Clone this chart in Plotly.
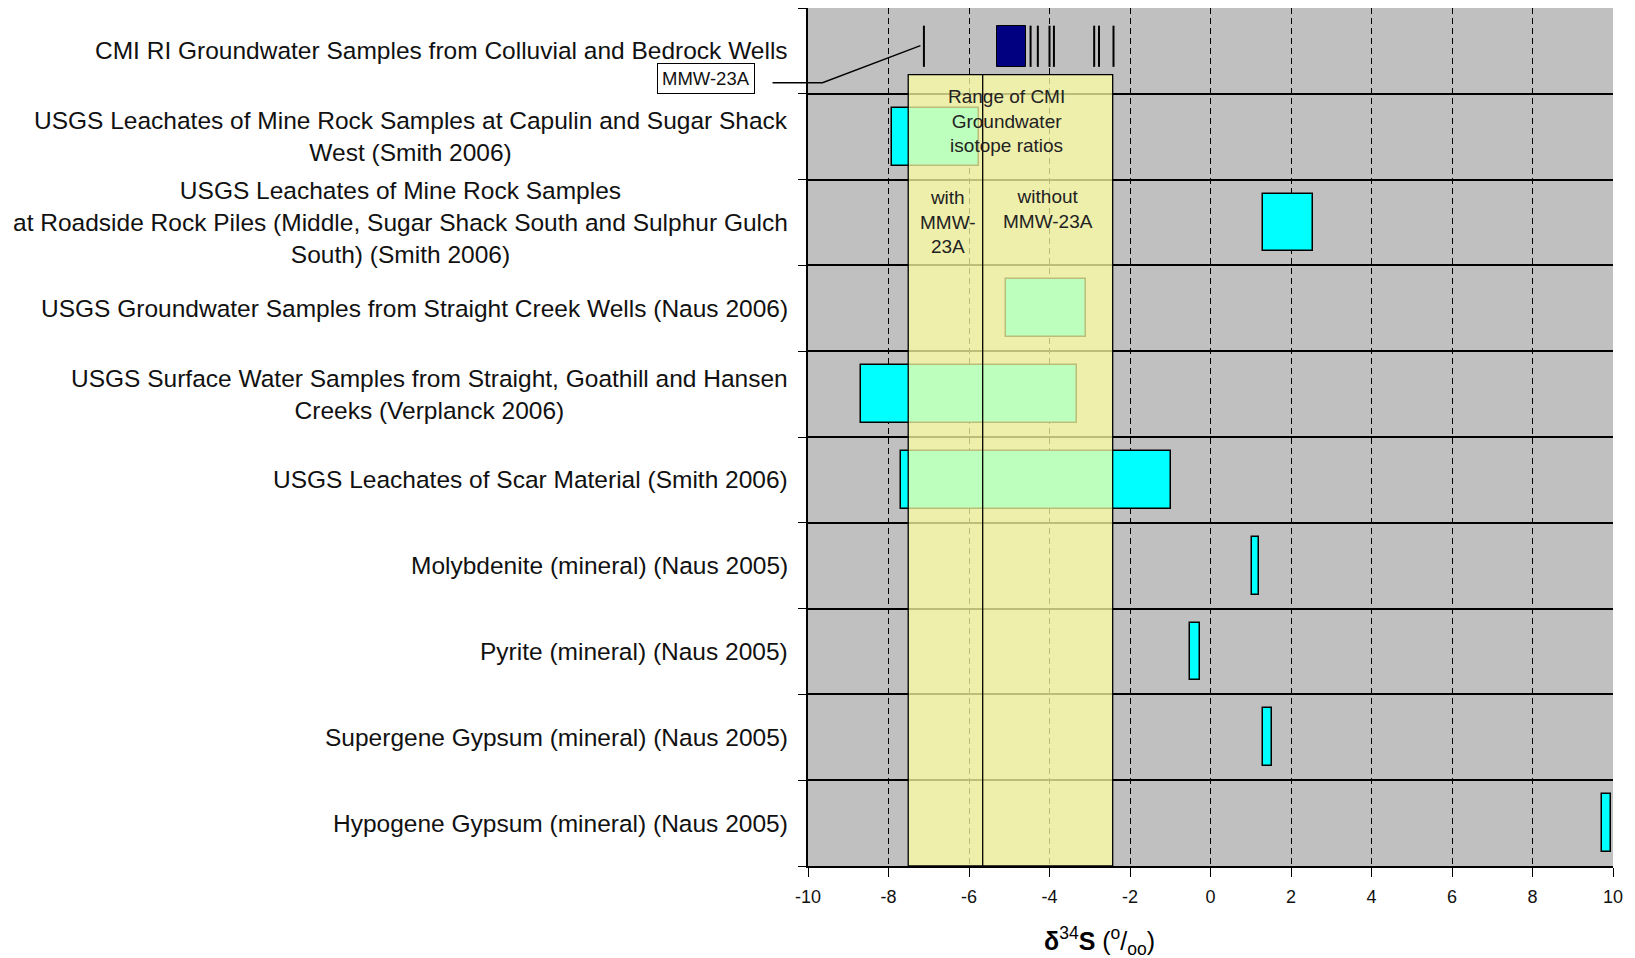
import plotly.graph_objects as go

# ---------------- data ----------------
row_labels = [
    "CMI RI Groundwater Samples from Colluvial and Bedrock Wells",
    "USGS Leachates of Mine Rock Samples at Capulin and Sugar Shack<br>West (Smith 2006)",
    "USGS Leachates of Mine Rock Samples<br>at Roadside Rock Piles (Middle, Sugar Shack South and Sulphur Gulch<br>South) (Smith 2006)",
    "USGS Groundwater Samples from Straight Creek Wells (Naus 2006)",
    "USGS Surface Water Samples from Straight, Goathill and Hansen<br>Creeks (Verplanck 2006)",
    "USGS Leachates of Scar Material (Smith 2006)",
    "Molybdenite (mineral) (Naus 2005)",
    "Pyrite (mineral) (Naus 2005)",
    "Supergene Gypsum (mineral) (Naus 2005)",
    "Hypogene Gypsum (mineral) (Naus 2005)",
]
range_rows = [1, 2, 3, 4, 5, 6, 7, 8, 9]
range_min = [-7.92, 1.30, -5.09, -8.69, -7.69, 1.02, -0.51, 1.31, 9.73]
range_max = [-5.76, 2.55, -3.09, -3.31, -0.99, 1.21, -0.26, 1.52, 9.95]

cmi_cluster = [-5.30, -4.58]                     # dense cluster of CMI samples
cmi_samples = [-7.12, -4.47, -4.29, -4.00, -3.89, -2.89, -2.77, -2.41]
mmw_23a = -7.12

cmi_range_with = [-7.51, -2.43]                  # range incl. MMW-23A
cmi_range_without_min = -5.66                    # lower bound excl. MMW-23A

x_ticks = [-10, -8, -6, -4, -2, 0, 2, 4, 6, 8, 10]

# ---------------- layout geometry (pixels) ----------------
W, H = 1635, 958
PL, PR, PT, PB = 807.5, 1613.0, 8.3, 866.0
nrows = len(row_labels)


def px_to_paper_x(px):
    return (px - PL) / (PR - PL)


def px_to_paper_y(py):
    return (PB - py) / (PB - PT)


FONT = "Liberation Sans, Arial, sans-serif"

fig = go.Figure()

# range bars
fig.add_trace(go.Bar(
    orientation="h",
    y=range_rows,
    base=range_min,
    x=[hi - lo for lo, hi in zip(range_min, range_max)],
    width=0.675,
    marker=dict(color="#00FFFF", line=dict(color="black", width=1.5)),
    hoverinfo="skip",
    showlegend=False,
))

# CMI cluster box
fig.add_trace(go.Bar(
    orientation="h",
    y=[0],
    base=[cmi_cluster[0]],
    x=[cmi_cluster[1] - cmi_cluster[0]],
    width=0.48,
    offset=-0.294,
    marker=dict(color="#000080", line=dict(color="black", width=1)),
    hoverinfo="skip",
    showlegend=False,
))

# CMI individual samples as vertical ticks
sx, sy = [], []
for v in cmi_samples:
    sx += [v, v, None]
    sy += [-0.294, 0.186, None]
fig.add_trace(go.Scatter(
    x=sx, y=sy, mode="lines",
    line=dict(color="black", width=2),
    hoverinfo="skip", showlegend=False,
))

# yellow CMI range overlay
box_top = (75 - PT) / ((PB - PT) / nrows) - 0.5
fig.add_shape(type="rect", xref="x", yref="y",
              x0=cmi_range_with[0], x1=cmi_range_with[1], y0=box_top, y1=nrows - 0.5,
              fillcolor="rgba(255,255,165,0.74)", line=dict(width=0), layer="above")
fig.add_shape(type="rect", xref="x", yref="y",
              x0=cmi_range_with[0], x1=cmi_range_with[1], y0=box_top, y1=nrows - 0.5,
              fillcolor="rgba(0,0,0,0)", line=dict(color="black", width=1.3), layer="above")
fig.add_shape(type="line", xref="x", yref="y",
              x0=cmi_range_without_min, x1=cmi_range_without_min, y0=box_top, y1=nrows - 0.5,
              line=dict(color="black", width=1.3), layer="above")

# annotations inside yellow box
fig.add_annotation(x=(cmi_range_with[0] + cmi_range_with[1]) / 2 - 0.1, y=0.815, xref="x", yref="y",
                   text="Range of CMI<br>Groundwater<br>isotope ratios", showarrow=False,
                   font=dict(family=FONT, size=19, color="#222"), align="center")
fig.add_annotation(x=(cmi_range_with[0] + cmi_range_without_min) / 2 + 0.06, y=1.99, xref="x", yref="y",
                   text="with<br>MMW-<br>23A", showarrow=False,
                   font=dict(family=FONT, size=19, color="#222"), align="center")
fig.add_annotation(x=(cmi_range_without_min + cmi_range_with[1]) / 2, y=1.84, xref="x", yref="y",
                   text="without<br>MMW-23A", showarrow=False,
                   font=dict(family=FONT, size=19, color="#222"), align="center")

# row labels (centered multi-line, right aligned block)
for i, lab in enumerate(row_labels):
    fig.add_annotation(x=px_to_paper_x(789.5), y=i, xref="paper", yref="y",
                       xanchor="right", yanchor="middle", align="center",
                       text=lab, showarrow=False,
                       font=dict(family=FONT, size=24.5, color="#111"))

# MMW-23A callout
fig.add_annotation(x=px_to_paper_x(705.5), y=px_to_paper_y(79), xref="paper", yref="paper",
                   text="MMW-23A", showarrow=False, xanchor="center", yanchor="middle",
                   font=dict(family=FONT, size=18.5, color="#111"),
                   bordercolor="black", borderwidth=1, borderpad=4, bgcolor="white")
p = [(772, 83), (822, 83), (920, 46)]
path = "M {} {} L {} {} L {} {}".format(
    px_to_paper_x(p[0][0]), px_to_paper_y(p[0][1]),
    px_to_paper_x(p[1][0]), px_to_paper_y(p[1][1]),
    px_to_paper_x(p[2][0]), px_to_paper_y(p[2][1]))
fig.add_shape(type="path", xref="paper", yref="paper", path=path,
              line=dict(color="black", width=1.3), layer="above")

# x-axis title
fig.add_annotation(x=px_to_paper_x(1099), y=px_to_paper_y(941), xref="paper", yref="paper",
                   text="<b>δ</b><sup>34</sup><b>S</b> (<sup>o</sup>/<sub>oo</sub>)",
                   showarrow=False, xanchor="center", yanchor="middle",
                   font=dict(family=FONT, size=25, color="black"))

fig.update_layout(
    width=W, height=H,
    margin=dict(l=PL, r=W - PR, t=PT, b=H - PB, pad=0),
    paper_bgcolor="white",
    plot_bgcolor="#C0C0C0",
    bargap=0,
    barmode="overlay",
    xaxis=dict(
        range=[-10, 10], tickvals=x_ticks, ticktext=[str(t) for t in x_ticks],
        showgrid=True, gridcolor="black", gridwidth=1.4, griddash="6px,4px",
        zeroline=False, showline=True, linecolor="black", linewidth=1.5,
        ticks="outside", ticklen=9, tickcolor="black", tickwidth=1.3,
        ticklabelstandoff=5,
        tickfont=dict(family=FONT, size=18, color="#111"),
    ),
    yaxis=dict(
        range=[nrows - 0.5, -0.5],
        tickvals=[i - 0.5 for i in range(nrows + 1)],
        ticktext=["" for _ in range(nrows + 1)],
        showgrid=True, gridcolor="black", gridwidth=1.5,
        zeroline=False, showline=True, linecolor="black", linewidth=1.5,
        ticks="outside", ticklen=8, tickcolor="black", tickwidth=1.3,
    ),
)

fig.write_html("out.html", config={"displayModeBar": False},
               post_script="document.body.style.margin='0';document.body.style.overflow='hidden';")
